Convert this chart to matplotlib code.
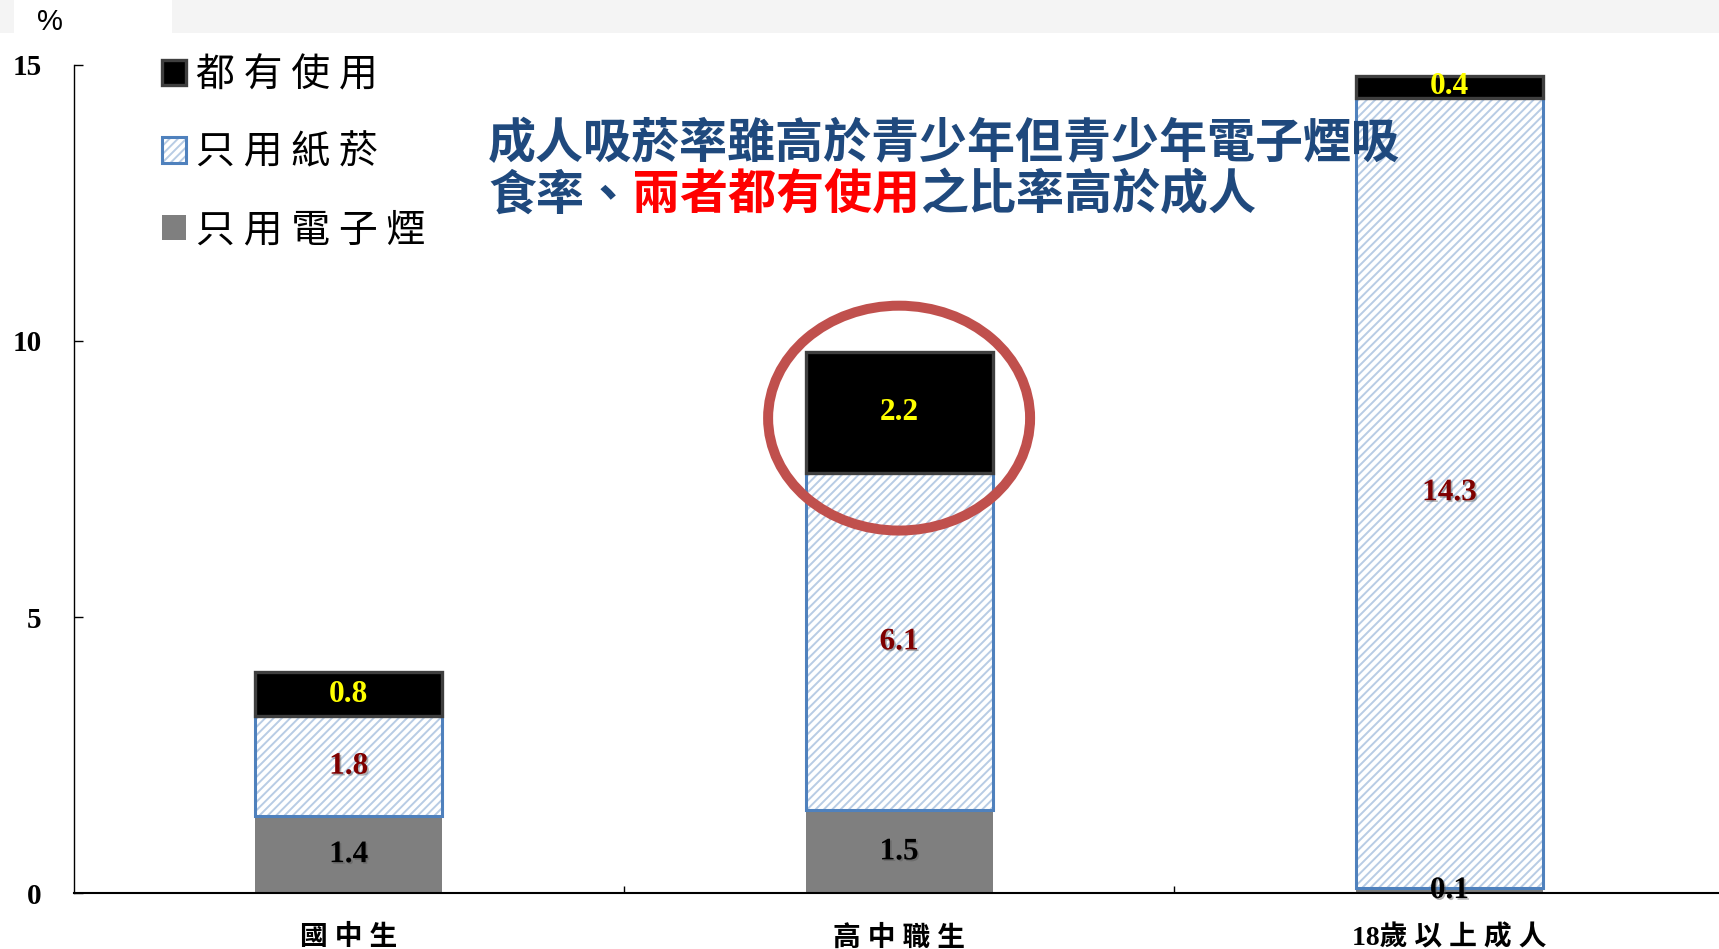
import matplotlib
matplotlib.use('Agg')
import matplotlib.pyplot as plt
import matplotlib.patheffects as pe
from matplotlib.patches import Ellipse, Rectangle
from matplotlib.transforms import offset_copy
import numpy as np

# data
categories = ['國中生', '高中職生', '18歲以上成人']
ecig_only = [1.4, 1.5, 0.1]     # 只用電子煙
cig_only = [1.8, 6.1, 14.3]     # 只用紙菸
both_used = [0.8, 2.2, 0.4]     # 都有使用
series_names = ['都有使用', '只用紙菸', '只用電子煙']
y_ticks = [0, 5, 10, 15]
y_unit = '%'
note_line1 = '成人吸菸率雖高於青少年但青少年電子煙吸'
note_line2_parts = ['食率、', '兩者都有使用', '之比率高於成人']
note_line2_colors = ['#1f497d', '#ff0000', '#1f497d']

W, H = 1719, 949
plt.rcParams['font.family'] = ['Liberation Serif', 'Noto Sans CJK TC', 'DejaVu Sans']
plt.rcParams['hatch.linewidth'] = 1.4


def fx(px):
    return px / W


def fy(py):
    return 1 - py / H


def spaced(s):
    """put a space between neighbouring CJK characters (letter spacing)"""
    out = ''
    for i, ch in enumerate(s):
        out += ch
        if i + 1 < len(s) and ord(ch) > 127 and ord(s[i + 1]) > 127:
            out += ' '
    return out


fig = plt.figure(figsize=(W / 100, H / 100), dpi=100)

# light band at the very top
fig.patches.append(Rectangle((0, fy(33)), 1, 33 / H, transform=fig.transFigure,
                             facecolor='#f4f4f4', edgecolor='none', zorder=-2))
fig.patches.append(Rectangle((fx(14), fy(36)), (172 - 14) / W, 36 / H, transform=fig.transFigure,
                             facecolor='white', edgecolor='none', zorder=-1))

ax = fig.add_axes([73.5 / W, 1 - 893.3 / H, 3 * 550.4 / W, (893.3 - 64.5) / H])
ax.set_facecolor('none')

x = np.arange(len(categories))
w = 0.34
gray_bars = ax.bar(x, ecig_only, w, color='#7f7f7f', linewidth=0, zorder=2)
bottom2 = np.array(ecig_only)
hatch_bars = ax.bar(x, cig_only, w, bottom=bottom2, facecolor='white', edgecolor='#b8cce4',
                    hatch='////', linewidth=0, zorder=2)
edge_bars = ax.bar(x, cig_only, w, bottom=bottom2, facecolor='none', edgecolor='#4f81bd',
                   linewidth=2.2, zorder=3)
bottom3 = bottom2 + np.array(cig_only)
black_bars = ax.bar(x, both_used, w, bottom=bottom3, color='black', edgecolor='#3f3f3f',
                    linewidth=2.4, zorder=4)

# value labels
shadow = [pe.withSimplePatchShadow(offset=(1.2, -1.2), shadow_rgbFace='#555555', alpha=0.45)]
for i in range(len(categories)):
    segs = [(0, ecig_only[i], 'black'),
            (bottom2[i], cig_only[i], '#7f0000'),
            (bottom3[i], both_used[i], '#ffff00')]
    for b, v, c in segs:
        ax.text(x[i], b + v / 2, f'{v:.1f}', ha='center', va='center', color=c,
                fontsize=22.5, fontweight='bold', family='Liberation Serif',
                zorder=6, path_effects=shadow if c != '#ffff00' else None)

# highlight ellipse around the senior high "both" segment
ax.add_patch(Ellipse((x[1], bottom3[1] + both_used[1] / 2 - 0.1), 0.476, 4.07,
                     facecolor='none', edgecolor='#c0504d', linewidth=7.2, zorder=7))

ax.set_xlim(-0.5, 2.5)
ax.set_ylim(0, 15)
ax.set_yticks(y_ticks)
ax.set_yticklabels([str(t) for t in y_ticks], fontsize=21, fontweight='bold',
                   family='Liberation Serif')
ax.tick_params(axis='y', direction='in', length=6.5, width=1, pad=23)
ax.set_xticks(x)
ax.set_xticklabels([spaced(c) for c in categories], fontsize=20, fontweight='bold')
ax.set_xticks(x + 0.5, minor=True)
ax.tick_params(axis='x', which='major', length=0, pad=23)
ax.tick_params(axis='x', which='minor', direction='in', length=5, width=1)
for s in ['top', 'right']:
    ax.spines[s].set_visible(False)
ax.spines['bottom'].set_linewidth(1.5)
ax.spines['left'].set_linewidth(1.0)

fig.text(fx(50), fy(22), y_unit, fontsize=21, family='Liberation Sans', ha='center', va='center')

# legend
leg = fig.legend([black_bars, (hatch_bars, edge_bars), gray_bars],
                 [spaced(s) for s in series_names],
                 loc='upper left', bbox_to_anchor=(fx(162), fy(55)), bbox_transform=fig.transFigure,
                 frameon=False, borderpad=0, borderaxespad=0, handlelength=0.62, handleheight=0.62,
                 handletextpad=0.25, labelspacing=0.97,
                 prop={'family': ['Noto Sans CJK TC'], 'size': 28})

# note text
note_fs = 34.6
note_kw = dict(fontsize=note_fs, fontweight='bold', family=['Noto Sans CJK TC'],
               va='center', ha='left')
fig.text(fx(488), fy(144), note_line1, color='#1f497d', **note_kw)
off = 0
for part, col in zip(note_line2_parts, note_line2_colors):
    tr = offset_copy(fig.transFigure, fig=fig, x=off, y=0, units='points')
    fig.text(fx(488), fy(195), part, color=col, transform=tr, **note_kw)
    off += len(part) * note_fs

fig.savefig('out.png', dpi=100)
